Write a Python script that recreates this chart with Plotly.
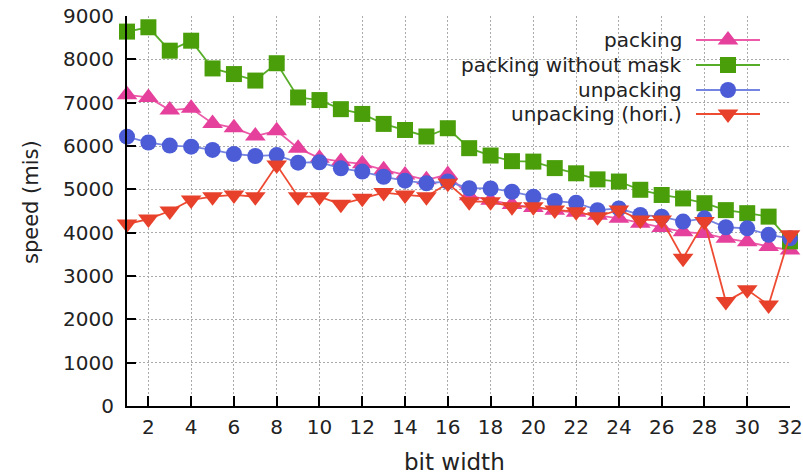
import plotly.graph_objects as go

bit_width = list(range(1, 33))

packing = [7180, 7120, 6830, 6870, 6520, 6420, 6230, 6350, 5950, 5720, 5640, 5590, 5450, 5330, 5220, 5340,
           4850, 4750, 4650, 4580, 4520, 4470, 4400, 4330, 4220, 4120, 4020, 3980, 3870, 3790, 3680, 3600]
packing_no_mask = [8640, 8740, 8200, 8430, 7790, 7660, 7510, 7910, 7120, 7060, 6850, 6740, 6510, 6370, 6220, 6410,
                   5950, 5780, 5650, 5640, 5490, 5370, 5230, 5180, 4990, 4870, 4790, 4680, 4520, 4450, 4370, 3800]
unpacking = [6215, 6080, 6010, 5985, 5910, 5815, 5770, 5790, 5615, 5625, 5485, 5410, 5290, 5200, 5140, 5180,
             5025, 5020, 4945, 4830, 4730, 4690, 4520, 4560, 4410, 4370, 4255, 4330, 4125, 4100, 3950, 3870]
unpacking_hori = [4200, 4315, 4500, 4755, 4830, 4870, 4830, 5560, 4830, 4830, 4655, 4795, 4925, 4870, 4830, 5140,
                  4715, 4715, 4600, 4600, 4525, 4485, 4370, 4525, 4295, 4295, 3410, 4255, 2410, 2680, 2330, 3950]

series_names = ["packing", "packing without mask", "unpacking", "unpacking (hori.)"]
series_values = [packing, packing_no_mask, unpacking, unpacking_hori]
x_ticks = list(range(2, 33, 2))
y_ticks = list(range(0, 9001, 1000))
x_title = "bit width"
y_title = "speed (mis)"

styles = [
    dict(marker="#e5409b", line="#ec5aa8", symbol="triangle-up", size=18),
    dict(marker="#4a9e0a", line="#58ad28", symbol="square", size=16),
    dict(marker="#4b5cd6", line="#7584e0", symbol="circle", size=16),
    dict(marker="#e8412b", line="#ee4b33", symbol="triangle-down", size=18),
]

FONT = "DejaVu Sans"
FS = 20
LW = 1.8
fig = go.Figure()
for name, vals, st in zip(series_names, series_values, styles):
    fig.add_trace(go.Scatter(
        x=bit_width, y=vals, name=name, mode="lines+markers", cliponaxis=False,
        line=dict(color=st["line"], width=LW),
        marker=dict(color=st["marker"], symbol=st["symbol"], size=st["size"], line=dict(width=0)),
        showlegend=False,
    ))

# plot-area pixel box, and helpers to express layout positions in paper units
L, R, T, B = 127, 790, 16, 406
def px_x(p):
    return (p - L) / (R - L)
def px_y(p):
    return (B - p) / (B - T)

# custom legend (text on the left, key on the right), in pixel-like overlay coordinates
leg_rows = [40, 65, 90, 114]
leg_text_right = 684
leg_line = (696, 760)
for row, name, st in zip(leg_rows, series_names, styles):
    fig.add_trace(go.Scatter(
        x=list(leg_line), y=[row, row], mode="lines", xaxis="x2", yaxis="y2",
        line=dict(color=st["line"], width=LW), showlegend=False, hoverinfo="skip", cliponaxis=False))
    fig.add_trace(go.Scatter(
        x=[sum(leg_line) / 2], y=[row], mode="markers", xaxis="x2", yaxis="y2",
        marker=dict(color=st["marker"], symbol=st["symbol"], size=st["size"], line=dict(width=0)),
        showlegend=False, hoverinfo="skip", cliponaxis=False))
    fig.add_annotation(x=px_x(leg_text_right), y=px_y(row), xref="paper", yref="paper", text=name,
                       showarrow=False, xanchor="right", yanchor="middle",
                       font=dict(family=FONT, size=FS, color="#222"))

# axis titles
fig.add_annotation(x=px_x(454), y=px_y(462), xref="paper", yref="paper", text=x_title, showarrow=False,
                   xanchor="center", yanchor="middle", font=dict(family=FONT, size=23, color="#222"))
fig.add_annotation(x=px_x(31), y=px_y(202), xref="paper", yref="paper", text=y_title, showarrow=False,
                   textangle=-90, xanchor="center", yanchor="middle",
                   font=dict(family=FONT, size=21, color="#222"))

fig.update_layout(
    width=803, height=476,
    margin=dict(l=L, r=803 - R, t=T, b=476 - B),
    paper_bgcolor="white", plot_bgcolor="white",
    font=dict(family=FONT, size=FS, color="#222"),
    xaxis=dict(range=[1, 32], tickvals=x_ticks, ticks="inside", ticklen=10, tickwidth=1.5, tickcolor="black",
               showline=True, linecolor="black", linewidth=2, mirror=False, automargin=False,
               showgrid=True, gridcolor="#aaaaaa", griddash="2px,2px", gridwidth=1, zeroline=False,
               ticklabelstandoff=2),
    yaxis=dict(range=[0, 9000], tickvals=y_ticks, ticks="inside", ticklen=9, tickwidth=1.5, tickcolor="black",
               showline=True, linecolor="black", linewidth=2, mirror=False, automargin=False,
               showgrid=True, gridcolor="#aaaaaa", griddash="2px,2px", gridwidth=1, zeroline=False,
               ticklabelstandoff=7),
    xaxis2=dict(range=[L, R], overlaying="x", visible=False, fixedrange=True),
    yaxis2=dict(range=[B, T], overlaying="y", visible=False, fixedrange=True),
)

fig.write_html("out.html", config={"displayModeBar": False},
               post_script="document.body.style.margin='0px';")
